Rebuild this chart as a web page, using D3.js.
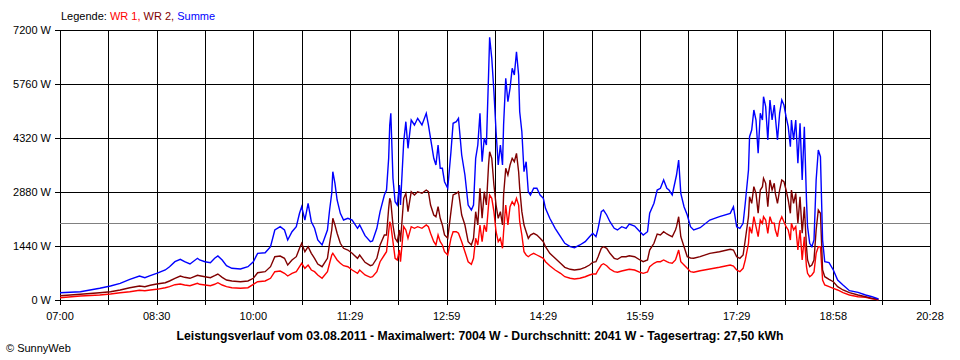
<!DOCTYPE html>
<html><head><meta charset="utf-8">
<script src="https://cdn.jsdelivr.net/npm/d3@7"></script>
<style>body{margin:0;background:#fff} svg{display:block} text{font-family:"Liberation Sans",Arial,sans-serif}</style>
</head><body><svg id="c" width="960" height="360"></svg>
<script>
// minutes after 07:00
const minutes=[0,19,37,47,56,65,74,79,84,90,98,102,107,112,116,121,128,130,135,140,144,147,151,155,160,168,175,180,184,191,196,200,205,209,212,216,220,223,225,228,231,234,237,240,244,249,251,253,254,256,258,261,264,268,272,277,279,284,289,291,295,298,302,304,306,307,308,310,312,314,316,317,320,322,324,327,330,333,337,341,343,345,348,350,352,354,356,358,361,364,366,369,371,374,377,380,383,385,387,389,391,393,395,397,399,400,402,404,406,408,410,412,413,415,417,419,421,423,425,427,428,430,432,434,436,438,441,444,447,450,452,456,461,466,470,475,479,484,489,493,496,499,501,504,506,509,512,516,519,523,527,530,535,540,543,547,549,553,556,559,562,565,567,570,573,574,576,578,581,584,587,590,596,605,614,624,627,630,633,636,638,641,642,644,646,648,650,652,654,655,657,659,661,663,665,666,668,670,672,674,676,678,680,681,683,685,687,689,691,693,695,696,698,700,702,704,706,708,710,712,716,720,724,729,735,743,750,756,762];
const summe=[195,221,312,373,445,552,640,595,648,712,800,888,1021,1085,1021,960,1112,1067,1021,995,1112,1173,1067,915,845,827,888,1021,1245,1261,1421,1867,1955,1867,1600,1821,1955,2312,2488,2133,2579,2088,1912,1600,1467,1867,2400,2845,3421,3112,2667,2312,2133,2179,2133,1912,2000,1715,1555,1573,1912,2355,2800,2933,3779,4667,4979,3245,2621,2533,3067,2533,4221,4755,4045,4800,4667,4845,4667,4979,4667,4312,3779,3600,4133,3512,3512,3155,2979,3955,4712,4755,4845,3867,3333,2533,2400,2533,3779,4133,4979,3688,4312,4133,6000,7004,6445,5555,4488,3600,4133,3600,4667,5912,5288,5645,6179,6000,6621,6000,5021,4488,3421,3688,2888,2800,2979,2979,2800,2712,2445,2179,1912,1688,1512,1421,1395,1467,1555,1688,1779,1688,1912,2355,2400,2267,2088,1912,1867,1955,1912,2027,1973,1821,1733,1821,2312,2579,2933,2979,3200,2979,2933,2800,3200,3333,3733,2845,2488,2267,1955,1867,1928,2133,2221,2312,2488,1955,1912,2045,2579,3467,4355,4533,5067,4800,3912,4979,4800,5421,5155,4267,5333,4800,5200,4888,4267,4979,5333,5200,4888,4621,4088,4800,4267,4800,3645,4712,3200,4621,2667,1955,1512,1421,1600,3200,4000,3821,1600,1021,995,800,533,400,248,205,133,88,27];
const wr2=[115,152,195,221,267,328,373,355,392,427,461,507,579,640,605,579,659,648,621,595,648,693,605,533,507,488,507,579,728,755,888,1155,1173,1112,933,1067,1155,1379,1512,1288,1421,1245,1112,960,888,1112,1512,1867,2179,2000,1779,1512,1379,1333,1245,1112,1200,1005,915,933,1112,1467,1733,1733,2445,2712,2621,2000,1645,1555,1867,1555,2712,2845,2355,2888,2800,2888,2845,2933,2888,2533,2267,2221,2488,2179,2000,1733,1645,2355,2800,2845,2888,2267,2000,1555,1467,1645,2355,2000,2979,2179,2888,2533,3600,3955,3779,3067,2533,2179,2355,2000,2800,3512,3333,3600,3779,3688,3912,3421,2979,2355,2000,1821,1645,1733,1779,1733,1645,1555,1421,1245,1112,979,872,819,800,819,872,933,1005,1021,1155,1379,1421,1379,1245,1112,1085,1155,1155,1181,1155,1067,1021,1067,1333,1512,1760,1733,1821,1760,1733,1688,1867,1955,2221,1688,1421,1155,1120,1112,1155,1245,1288,1352,1333,1155,1112,1200,1600,2221,2755,2579,3021,2845,2312,2933,3021,3245,3112,2488,3200,2933,3112,2845,2579,2933,3200,3155,2933,2667,2312,2933,2579,2845,2045,2755,1779,2488,1421,1067,888,933,1067,1867,2400,2312,800,621,552,488,355,267,195,133,88,45,19];
const wr1=[61,107,133,160,195,221,259,248,267,285,328,355,408,427,400,381,445,419,400,381,419,461,400,355,328,312,328,419,488,507,579,755,773,712,640,712,755,888,979,845,933,800,755,667,579,755,979,1200,1245,1155,1067,979,915,888,800,712,800,667,605,621,755,1021,1200,1288,1821,2088,2000,1555,1112,1067,1333,1021,1955,1867,1645,1955,1912,1955,1912,2000,1955,1779,1555,1467,1733,1555,1467,1288,1200,1645,1821,1821,1779,1555,1288,1021,952,1112,1645,1467,2000,1555,2000,1821,2533,2800,2712,2355,1821,1555,1645,1379,1821,2533,2000,2488,2621,2533,2712,2533,2088,1733,1288,1200,1155,1200,1245,1200,1155,1112,1021,915,800,712,621,579,560,579,621,667,693,693,800,933,968,915,827,755,739,773,800,819,800,739,712,747,888,979,1021,1021,1067,1021,995,979,1067,1155,1333,1021,933,845,755,739,781,827,872,933,907,800,755,845,1067,1512,1955,1779,2221,1955,1688,2133,2045,2221,2133,1779,2221,2045,2045,1867,1688,2080,2221,2088,1955,1867,1600,2045,1867,1955,1333,1867,1067,1688,888,712,621,667,747,1245,1421,1421,533,400,355,312,267,195,133,88,72,35,8];
const yTickValues=[0,1440,2880,4320,5760,7200];
const xTickLabels=["07:00","08:30","10:00","11:29","12:59","14:29","15:59","17:29","18:58","20:28"];
const averageValue=2041;
const legendParts=[["Legende: ","#000000"],["WR 1, ","#ff0000"],["WR 2, ","#800000"],["Summe","#0000ff"]];
const titleText="Leistungsverlauf vom 03.08.2011 - Maximalwert: 7004 W - Durchschnitt: 2041 W - Tagesertrag: 27,50 kWh";
const footerText="\u00a9 SunnyWeb";

const svg=d3.select("#c");
const x=d3.scaleLinear().domain([0,810]).range([60,930]);
const y=d3.scaleLinear().domain([0,7200]).range([300,30]);
const px=v=>Math.round(v)+0.5;
const xTicks=d3.range(0,811,45);

const g=svg.append("g").attr("shape-rendering","crispEdges");
// vertical grid + ticks
g.selectAll("line.v").data(xTicks).enter().append("line")
 .attr("x1",d=>px(x(d))).attr("x2",d=>px(x(d))).attr("y1",30).attr("y2",305)
 .attr("stroke","#000").attr("stroke-width",1);
// horizontal grid + ticks
g.selectAll("line.h").data(yTickValues).enter().append("line")
 .attr("x1",55).attr("x2",930).attr("y1",d=>px(y(d))).attr("y2",d=>px(y(d)))
 .attr("stroke","#000").attr("stroke-width",1);
// average line
g.append("line").attr("x1",60).attr("x2",930).attr("y1",px(y(averageValue))).attr("y2",px(y(averageValue)))
 .attr("stroke","#808080").attr("stroke-width",1);

// y labels
svg.selectAll("text.yl").data(yTickValues).enter().append("text")
 .attr("x",51).attr("y",d=>y(d)+4).attr("text-anchor","end").attr("font-size",11)
 .text(d=>d+" W");
// x labels
svg.selectAll("text.xl").data(xTickLabels).enter().append("text")
 .attr("x",(d,i)=>x(xTicks[i*2])).attr("y",320).attr("text-anchor","middle").attr("font-size",11)
 .text(d=>d);

// series
const series=[[wr1,"#ff0000"],[wr2,"#800000"],[summe,"#0000ff"]];
series.forEach(([vals,col])=>{
  const line=d3.line().x((d,i)=>x(minutes[i])).y(d=>y(d));
  svg.append("path").datum(vals).attr("d",line).attr("fill","none")
   .attr("stroke",col).attr("stroke-width",1.4).attr("stroke-linejoin","miter");
});

// legend
const lg=svg.append("text").attr("x",61).attr("y",20).attr("font-size",11);
legendParts.forEach(([t,c])=>lg.append("tspan").attr("fill",c).text(t));

// title
svg.append("text").attr("x",480).attr("y",340).attr("text-anchor","middle")
 .attr("font-size",12).attr("font-weight","bold")
 .attr("textLength",607).attr("lengthAdjust","spacingAndGlyphs").text(titleText);
// footer
svg.append("text").attr("x",6).attr("y",352).attr("font-size",11).text(footerText);
</script></body></html>
